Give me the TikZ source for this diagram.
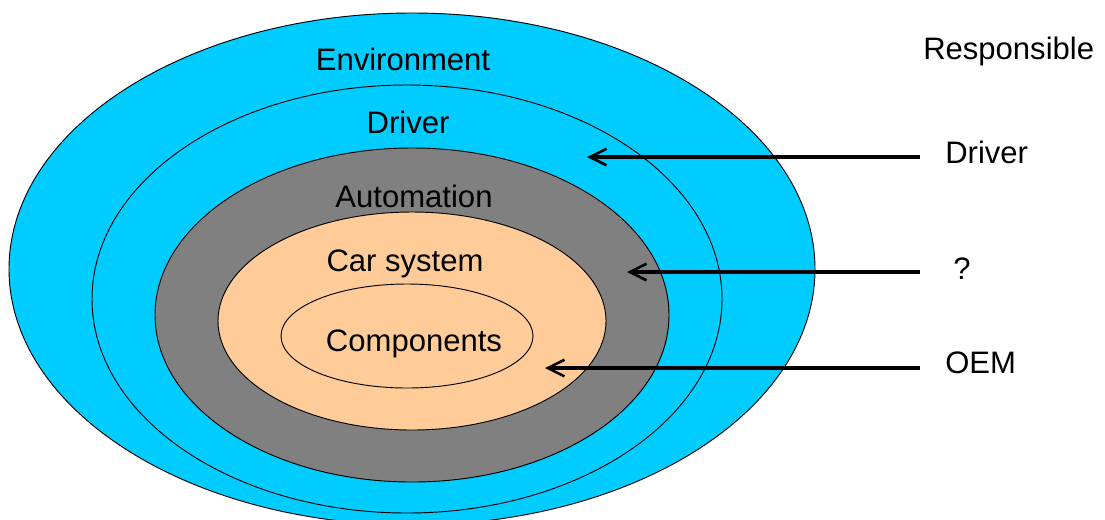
\documentclass[tikz,border=0pt]{standalone}
\usepackage{fontspec}
\setmainfont{Liberation Sans}
\usetikzlibrary{arrows.meta}

\definecolor{envblue}{HTML}{00CCFF}
\definecolor{autogray}{HTML}{808080}
\definecolor{carpeach}{HTML}{FFCC99}

\begin{document}
\begin{tikzpicture}[x=0.03cm, y=-0.03cm,
    ring/.style={draw=black, line width=0.8pt},
    lbl/.style={font=\fontsize{26.5}{30}\selectfont, inner sep=0pt, anchor=base},
    rlbl/.style={lbl, anchor=base west},
    resp/.style={line width=2.6pt, -{Straight Barb[length=5mm, width=5mm, line width=2.2pt]}}]
  \useasboundingbox (0,0) rectangle (1105,519);

  % Nested layers
  \draw[ring, fill=envblue]  (412,269) ellipse [x radius=403, y radius=256];
  \draw[ring, fill=envblue]  (407,299) ellipse [x radius=315, y radius=214];
  \draw[ring, fill=autogray] (412,315) ellipse [x radius=257, y radius=167];
  \draw[ring, fill=carpeach] (412,321) ellipse [x radius=194, y radius=109];
  \draw[ring, fill=carpeach] (407,336) ellipse [x radius=126, y radius=52];

  % Layer names
  \node[lbl] (env)  at (403,70)  {Environment};
  \node[lbl] (drv)  at (408,133) {Driver};
  \node[lbl] (auto) at (414,207) {Automation};
  \node[lbl] (car)  at (405,271) {Car system};
  \node[lbl] (comp) at (414,351) {Components};

  % Who is responsible
  \node[rlbl] (resp)    at (923,59)  {Responsible};
  \node[rlbl] (rdriver) at (945,163) {Driver};
  \node[rlbl] (rauto)   at (953,279) {?};
  \node[rlbl] (roem)    at (945,373) {OEM};

  \coordinate (sdriver) at (920,157);
  \coordinate (tdriver) at (587,157);
  \coordinate (sauto)   at (920,272);
  \coordinate (tauto)   at (627,272);
  \coordinate (soem)    at (920,368);
  \coordinate (toem)    at (545,368);

  \draw[resp] (sdriver) -- (tdriver);
  \draw[resp] (sauto) -- (tauto);
  \draw[resp] (soem) -- (toem);
\end{tikzpicture}
\end{document}
